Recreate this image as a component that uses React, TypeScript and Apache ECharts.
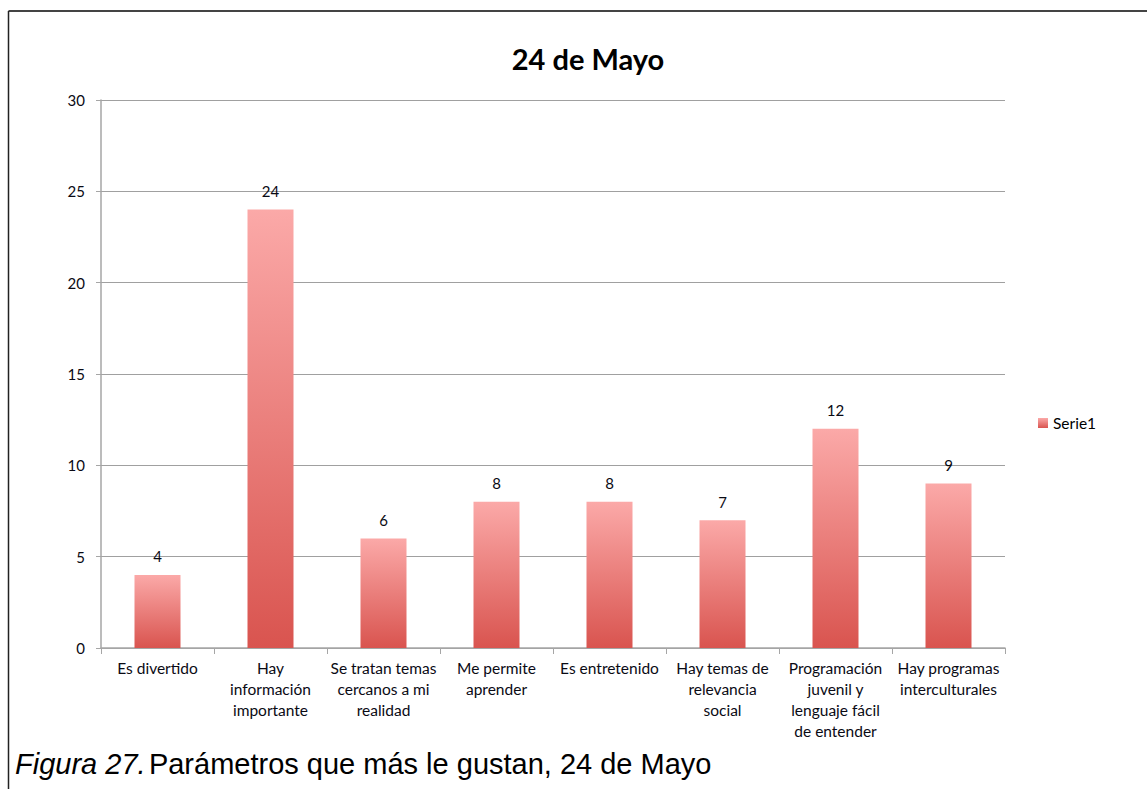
import React, { useEffect, useRef } from "react";
import * as echarts from "echarts";

const categories = [
  "Es divertido",
  "Hay\ninformación\nimportante",
  "Se tratan temas\ncercanos a mi\nrealidad",
  "Me permite\naprender",
  "Es entretenido",
  "Hay temas de\nrelevancia\nsocial",
  "Programación\njuvenil y\nlenguaje fácil\nde entender",
  "Hay programas\ninterculturales",
];
const serie1 = [4, 24, 6, 8, 8, 7, 12, 9];
const seriesName = "Serie1";
const chartTitle = "24 de Mayo";
const yTicks = { min: 0, max: 30, interval: 5 };

export default function App() {
  const ref = useRef<HTMLDivElement>(null);
  useEffect(() => {
    if (!ref.current) return;
    const chart = echarts.init(ref.current, null, { renderer: "svg" });
    const font = "Lato, 'Open Sans', sans-serif";
    chart.setOption({
      animation: false,
      backgroundColor: "#ffffff",
      title: {
        text: chartTitle,
        left: 583,
        textAlign: "center",
        top: 39,
        textStyle: { fontFamily: font, fontSize: 29, fontWeight: "bold", color: "#000" },
      },
      legend: {
        data: [seriesName],
        left: 1033,
        top: 410,
        itemWidth: 10,
        itemHeight: 10,
        itemGap: 4,
        icon: "rect",
        textStyle: { fontFamily: font, fontSize: 15.5, color: "#000" },
      },
      grid: { left: 101, right: 142, top: 100, bottom: 141, containLabel: false },
      xAxis: {
        type: "category",
        data: categories,
        axisLine: { lineStyle: { color: "#a6a6a6", width: 1.5 } },
        axisTick: { show: true, length: 6, alignWithLabel: false, lineStyle: { color: "#a6a6a6" } },
        axisLabel: {
          interval: 0,
          margin: 9,
          fontFamily: font,
          fontSize: 15.5,
          lineHeight: 21,
          color: "#0a0a14",
        },
      },
      yAxis: {
        type: "value",
        min: yTicks.min,
        max: yTicks.max,
        interval: yTicks.interval,
        axisLine: { show: true, lineStyle: { color: "#a6a6a6", width: 1.5 } },
        axisTick: { show: true, length: 5, lineStyle: { color: "#a6a6a6" } },
        splitLine: { lineStyle: { color: "#a0a0a0", width: 1.2 } },
        axisLabel: { fontFamily: font, fontSize: 15, color: "#0a0a14", margin: 16 },
      },
      series: [
        {
          name: seriesName,
          type: "bar",
          data: serie1,
          barWidth: 46,
          itemStyle: {
            color: new echarts.graphic.LinearGradient(0, 0, 0, 1, [
              { offset: 0, color: "#fba9a8" },
              { offset: 1, color: "#d9544f" },
            ]),
          },
          label: {
            show: true,
            position: "top",
            distance: 11,
            fontFamily: font,
            fontSize: 15,
            color: "#0a0a14",
          },
        },
      ],
      graphic: [
        { type: "line", shape: { x1: 8.5, y1: 11, x2: 1147, y2: 11 }, style: { stroke: "#444", lineWidth: 2 } },
        { type: "line", shape: { x1: 8.5, y1: 11, x2: 8.5, y2: 789 }, style: { stroke: "#222", lineWidth: 1.5 } },
        {
          type: "text",
          left: 15,
          top: 749,
          style: {
            text: "{i|Figura 27.} {n|Parámetros que más le gustan, 24 de Mayo}",
            rich: {
              i: { fontFamily: "'Liberation Sans', Arial", fontStyle: "italic", fontSize: 29, fill: "#000" },
              n: { fontFamily: "'Liberation Sans', Arial", fontSize: 29, fill: "#000" },
            },
          },
        },
      ],
    });
    return () => chart.dispose();
  }, []);
  return (
    <div
      ref={ref}
      style={{ position: "absolute", left: 0, top: 0, width: 1147, height: 789 }}
    />
  );
}
